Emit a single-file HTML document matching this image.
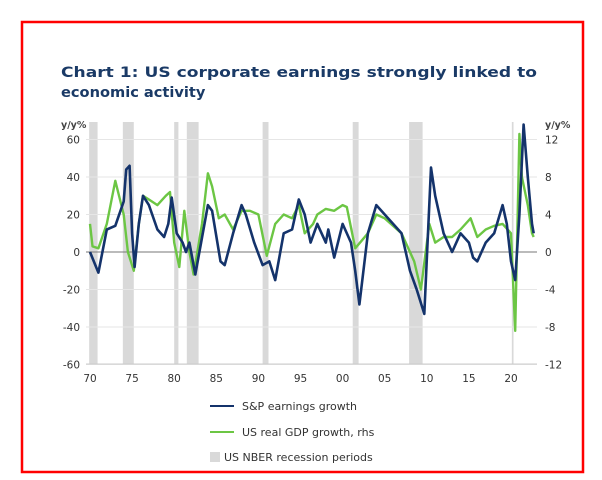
<!DOCTYPE html>
<html><head><meta charset="utf-8"><style>
body{margin:0;background:#fff;width:602px;height:476px;overflow:hidden;font-family:"DejaVu Sans",sans-serif}
</style></head><body>
<svg width="602" height="476" xmlns="http://www.w3.org/2000/svg" font-family="DejaVu Sans, sans-serif">
<rect x="22" y="22" width="561" height="450" fill="#fff" stroke="#f00" stroke-width="2.5"/>
<text x="61" y="77" font-size="14.6" font-weight="bold" fill="#1a3a66" textLength="476" lengthAdjust="spacingAndGlyphs">Chart 1: US corporate earnings strongly linked to</text>
<text x="61" y="97" font-size="14.6" font-weight="bold" fill="#1a3a66">economic activity</text>
<text x="61" y="128" font-size="9.5" font-weight="bold" fill="#444">y/y%</text>
<text x="545" y="128" font-size="9.5" font-weight="bold" fill="#444">y/y%</text>
<g id="rec" fill="#d9d9d9"></g>
<g id="grid" stroke="#e6e6e6" stroke-width="1"></g>
<line x1="86" y1="252" x2="537" y2="252" stroke="#777" stroke-width="1"/>
<g id="lab" font-size="10.5" fill="#333"></g>
<polyline id="gdp" fill="none" stroke="#6cc644" stroke-width="2.4" stroke-linejoin="round"/>
<polyline id="eps" fill="none" stroke="#14336b" stroke-width="2.6" stroke-linejoin="round"/>
<line x1="210" y1="406" x2="234" y2="406" stroke="#14336b" stroke-width="2"/>
<text x="242" y="410" font-size="11" fill="#333">S&amp;P earnings growth</text>
<line x1="210" y1="432" x2="234" y2="432" stroke="#6cc644" stroke-width="2"/>
<text x="242" y="436" font-size="11" fill="#333">US real GDP growth, rhs</text>
<rect x="210" y="452" width="10" height="10" fill="#d9d9d9"/>
<text x="224" y="461" font-size="11" fill="#333">US NBER recession periods</text>
</svg>
<script>
const X=y=>90+(y-1970)*8.42, Y=v=>252-v*1.875;
const ns="http://www.w3.org/2000/svg";
function el(p,t,a,txt){const e=document.createElementNS(ns,t);for(const k in a)e.setAttribute(k,a[k]);if(txt)e.textContent=txt;document.getElementById(p).appendChild(e);}
[[1969.9,1970.9],[1973.9,1975.2],[1980,1980.5],[1981.5,1982.9],[1990.5,1991.2],[2001.2,2001.9],[2007.9,2009.5],[2020.1,2020.3]].forEach(r=>el("rec","rect",{x:X(r[0]),y:122,width:X(r[1])-X(r[0]),height:242}));
for(let v=-60;v<=60;v+=20){if(v)el("grid","line",{x1:86,x2:537,y1:Y(v),y2:Y(v)});
el("lab","text",{x:80,y:Y(v)+4,"text-anchor":"end"},String(v));
el("lab","text",{x:545,y:Y(v)+4},String(v/5));}
el("grid","line",{x1:86,x2:537,y1:364,y2:364,stroke:"#ccc"});
["70","75","80","85","90","95","00","05","10","15","20"].forEach((t,i)=>el("lab","text",{x:X(1970+5*i),y:382,"text-anchor":"middle"},t));
const eps=[[1970,0],[1971,-11],[1972,12],[1973,14],[1974,27],[1974.3,44],[1974.7,46],[1975,10],[1975.3,-8],[1975.8,15],[1976.3,30],[1977,25],[1978,12],[1978.8,8],[1979.3,15],[1979.7,29],[1980.3,10],[1981,5],[1981.4,0],[1981.8,5],[1982.5,-12],[1983.2,5],[1984,25],[1984.5,22],[1985.5,-5],[1986,-7],[1987,10],[1988,25],[1988.5,20],[1989.5,5],[1990.5,-7],[1991.3,-5],[1992,-15],[1993,10],[1994,12],[1994.8,28],[1995.5,20],[1996.2,5],[1997,15],[1998,5],[1998.3,12],[1999,-3],[2000,15],[2001,5],[2001.5,-10],[2002,-28],[2003,10],[2004,25],[2005,20],[2006,15],[2007,10],[2008,-10],[2008.8,-20],[2009.7,-33],[2010.5,45],[2011,30],[2012,10],[2013,0],[2014,10],[2015,5],[2015.5,-3],[2016,-5],[2017,5],[2018,10],[2019,25],[2019.5,15],[2020,-5],[2020.5,-15],[2021,20],[2021.5,68],[2022,40],[2022.5,15],[2022.7,10]];
const gdp=[[1970,15],[1970.3,3],[1971,2],[1972,15],[1973,38],[1974,20],[1974.5,0],[1975.2,-10],[1975.8,15],[1976.3,30],[1977,28],[1978,25],[1979,30],[1979.5,32],[1980,5],[1980.6,-8],[1981.2,22],[1981.8,0],[1982.3,-12],[1983.3,15],[1984,42],[1984.5,35],[1985.3,18],[1986,20],[1987,12],[1988,22],[1989,22],[1990,20],[1991,-2],[1992,15],[1993,20],[1994,18],[1994.8,25],[1995.5,10],[1996.5,15],[1997,20],[1998,23],[1999,22],[2000,25],[2000.5,24],[2001.5,2],[2003,10],[2004,20],[2005,18],[2006,14],[2007,10],[2008.5,-5],[2009.3,-20],[2010.3,15],[2011,5],[2012,8],[2013,8],[2014,12],[2015.2,18],[2016,8],[2017,12],[2018,14],[2019,15],[2020,10],[2020.5,-42],[2021,63],[2021.3,40],[2022,25],[2022.5,10],[2022.7,8]];
const pts=a=>a.map(p=>X(p[0]).toFixed(1)+","+Y(p[1]).toFixed(1)).join(" ");
document.getElementById("eps").setAttribute("points",pts(eps));
document.getElementById("gdp").setAttribute("points",pts(gdp));
</script>
</body></html>
